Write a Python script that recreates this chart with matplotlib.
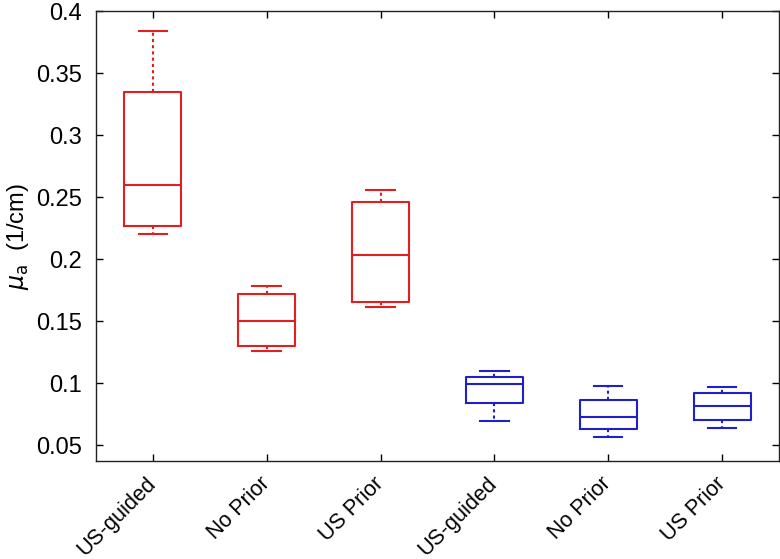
import matplotlib
matplotlib.use("Agg")
import matplotlib.pyplot as plt

labels = ["US-guided", "No Prior", "US Prior", "US-guided", "No Prior", "US Prior"]
whislo = [0.220, 0.126, 0.161, 0.0694, 0.0565, 0.0635]
q1     = [0.227, 0.130, 0.1656, 0.0836, 0.0627, 0.0702]
med    = [0.260, 0.150, 0.203, 0.0994, 0.0723, 0.0817]
q3     = [0.335, 0.172, 0.246, 0.105, 0.0863, 0.0917]
whishi = [0.384, 0.178, 0.256, 0.1097, 0.0976, 0.0968]
groups = ["red", "red", "red", "blue", "blue", "blue"]
colors = {"red": "#e02020", "blue": "#2020c8"}

plt.rcParams['font.family'] = ['Liberation Sans', 'DejaVu Sans']

fig = plt.figure(figsize=(7.8, 5.59), dpi=100)
ax = fig.add_axes([0.123, 0.175, 0.8757, 0.805])

for i in range(len(labels)):
    st = [dict(whislo=whislo[i], q1=q1[i], med=med[i], q3=q3[i], whishi=whishi[i], fliers=[])]
    c = colors[groups[i]]
    ax.bxp(st, positions=[i + 1], widths=0.5, showfliers=False,
           boxprops=dict(color=c, linewidth=1.5),
           medianprops=dict(color=c, linewidth=1.5),
           whiskerprops=dict(color=c, linewidth=1.5, linestyle=(0, (1.5, 1.5))),
           capprops=dict(color=c, linewidth=1.5),
           capwidths=0.25)

ax.set_xlim(0.5, 6.5)
ax.set_ylim(0.037, 0.4)
ax.set_yticks([0.05, 0.1, 0.15, 0.2, 0.25, 0.3, 0.35, 0.4])
ax.set_yticklabels(["0.05", "0.1", "0.15", "0.2", "0.25", "0.3", "0.35", "0.4"])
ax.set_xticks(range(1, len(labels) + 1))
ax.set_xticklabels(labels, rotation=45, ha='right', va='center',
                   rotation_mode='anchor', fontsize=15.5)
ax.tick_params(direction='in', length=5, width=1, labelsize=17,
               top=True, right=True, pad=10)
ax.tick_params(axis='x', pad=14, labelsize=15.5)
for s in ax.spines.values():
    s.set_linewidth(1.0)
    s.set_color('#222222')
ax.set_ylabel(r"$\mu_{\mathrm{a}}$  (1/cm)", fontsize=17, labelpad=4)

fig.savefig("out.png", dpi=100)
